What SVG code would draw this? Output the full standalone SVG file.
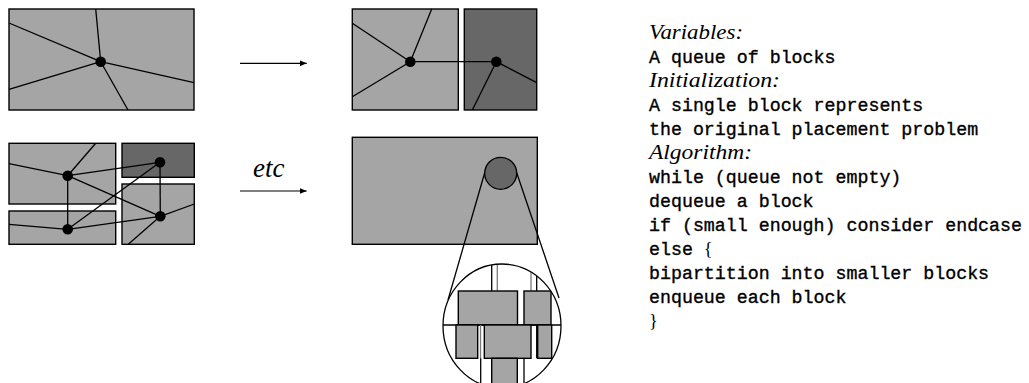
<svg xmlns="http://www.w3.org/2000/svg" width="1029" height="383" viewBox="0 0 1029 383">
<style>
.blk{fill:#a5a5a5;stroke:#000;stroke-width:1.4}
.dark{fill:#676767;stroke:#000;stroke-width:1.4}
.ln{stroke:#000;stroke-width:1.3;fill:none}
.gln{stroke:#7a7a7a;stroke-width:1.3;fill:none}
.dot{fill:#000}
.mono{font-family:"Liberation Mono","DejaVu Sans Mono",monospace;font-size:18.3px;fill:#000;stroke:#000;stroke-width:0.35}
.ital{font-family:"Liberation Serif","DejaVu Serif",serif;font-style:italic;font-size:20px;fill:#000}
</style>
<defs>
<marker id="ah" viewBox="0 0 10 10" refX="10" refY="5" markerWidth="7" markerHeight="6" markerUnits="userSpaceOnUse" orient="auto" preserveAspectRatio="none">
<path d="M0,0 L10,5 L0,10 z" fill="#000"/>
</marker>
<clipPath id="zc"><ellipse cx="502" cy="326" rx="59" ry="62"/></clipPath>
</defs>
<rect width="1029" height="383" fill="#fff"/>

<g id="block1">
<rect class="blk" x="9" y="9" width="185" height="101"/>
</g>

<g id="block2a"><rect class="blk" x="352.3" y="9" width="106" height="101"/></g>
<g id="block2b"><rect class="dark" x="464.3" y="9" width="72.4" height="101"/></g>

<g id="block3a"><rect class="blk" x="9" y="143.3" width="106.7" height="60.7"/></g>
<g id="block3b"><rect class="dark" x="122" y="143.3" width="72.3" height="34"/></g>
<g id="block3c"><rect class="blk" x="9" y="211" width="106.7" height="33.3"/></g>
<g id="block3d"><rect class="blk" x="122" y="184" width="72.3" height="60.3"/></g>

<g id="block4"><rect class="blk" x="352.3" y="137.3" width="185" height="107"/></g>

<g id="connectors">
<line class="ln" x1="100.7" y1="61.7" x2="95.7" y2="9"/>
<line class="ln" x1="100.7" y1="61.7" x2="9" y2="23"/>
<line class="ln" x1="100.7" y1="61.7" x2="9" y2="89.3"/>
<line class="ln" x1="100.7" y1="61.7" x2="194" y2="82.7"/>
<line class="ln" x1="100.7" y1="61.7" x2="128" y2="110"/>
<line class="ln" x1="410.3" y1="61.7" x2="431.7" y2="9"/>
<line class="ln" x1="410.3" y1="61.7" x2="352.3" y2="23.3"/>
<line class="ln" x1="410.3" y1="61.7" x2="352.3" y2="96.7"/>
<line class="ln" x1="410.3" y1="61.7" x2="496.3" y2="61.7"/>
<line class="ln" x1="496.3" y1="61.7" x2="536.7" y2="82.7"/>
<line class="ln" x1="496.3" y1="61.7" x2="472.3" y2="110"/>
<line class="ln" x1="67.7" y1="175.7" x2="95.7" y2="143.3"/>
<line class="ln" x1="67.7" y1="175.7" x2="9" y2="163.7"/>
<line class="ln" x1="67.7" y1="175.7" x2="160" y2="162.3"/>
<line class="ln" x1="67.7" y1="175.7" x2="67.7" y2="229.3"/>
<line class="ln" x1="67.7" y1="175.7" x2="160.3" y2="216.3"/>
<line class="ln" x1="160" y1="162.3" x2="67.7" y2="229.3"/>
<line class="ln" x1="160" y1="162.3" x2="160.3" y2="216.3"/>
<line class="ln" x1="67.7" y1="229.3" x2="9" y2="224.3"/>
<line class="ln" x1="67.7" y1="229.3" x2="160.3" y2="216.3"/>
<line class="ln" x1="160.3" y1="216.3" x2="194.3" y2="204"/>
<line class="ln" x1="160.3" y1="216.3" x2="128.3" y2="244.3"/>
<line class="ln" x1="240" y1="63.3" x2="306.7" y2="63.3" marker-end="url(#ah)"/>
<line x1="240" y1="191" x2="306.7" y2="191" stroke="#555" stroke-width="1.6" marker-end="url(#ah)"/>
<line class="ln" x1="484.7" y1="172.7" x2="448" y2="300"/>
<line class="ln" x1="516.7" y1="172.7" x2="559" y2="298"/>
</g>

<g id="n1"><circle class="dot" cx="100.7" cy="61.7" r="5.3"/></g>
<g id="n2"><circle class="dot" cx="410.3" cy="61.7" r="5.3"/></g>
<g id="n3"><circle class="dot" cx="496.3" cy="61.7" r="5.3"/></g>
<g id="n4"><circle class="dot" cx="67.7" cy="175.7" r="5.3"/></g>
<g id="n5"><circle class="dot" cx="160" cy="162.3" r="5.3"/></g>
<g id="n6"><circle class="dot" cx="67.7" cy="229.3" r="5.3"/></g>
<g id="n7"><circle class="dot" cx="160.3" cy="216.3" r="5.3"/></g>

<g id="zoomsrc"><circle cx="500.7" cy="173.3" r="16" fill="#676767" stroke="#000" stroke-width="1.3"/></g>

<g id="zoomview">
<ellipse cx="502" cy="326" rx="59" ry="62" fill="#fff"/>
<g clip-path="url(#zc)">
<line class="ln" x1="491.7" y1="255" x2="491.7" y2="291"/>
<line class="gln" x1="497.3" y1="255" x2="497.3" y2="291"/>
<line class="gln" x1="531" y1="255" x2="531" y2="291"/>
<line class="ln" x1="536.7" y1="255" x2="536.7" y2="291"/>
<rect class="blk" x="458.3" y="291" width="59.2" height="34"/>
<rect class="blk" x="524" y="291" width="27" height="34"/>
<line class="ln" x1="440" y1="325" x2="565" y2="325"/>
<rect class="blk" x="456" y="325" width="21.7" height="33.3"/>
<line class="gln" x1="480.5" y1="325" x2="480.5" y2="358.3"/>
<rect class="blk" x="484.3" y="325" width="46.7" height="33.3"/>
<line class="ln" x1="536.7" y1="325" x2="536.7" y2="358.3"/>
<rect class="blk" x="537.7" y="325" width="14" height="33.3"/>
<line class="ln" x1="480.7" y1="358.3" x2="480.7" y2="395"/>
<rect class="blk" x="491.7" y="358.3" width="25.6" height="40"/>
<line class="ln" x1="524" y1="358.3" x2="524" y2="395"/>
</g>
<ellipse cx="502" cy="326" rx="59" ry="62" fill="none" stroke="#000" stroke-width="1.3"/>
</g>

<text x="253" y="177" font-family="Liberation Serif, serif" font-style="italic" font-size="27" fill="#000">etc</text>

<g id="algorithm">
<text class="ital" x="649" y="38.5" textLength="94" lengthAdjust="spacingAndGlyphs">Variables:</text>
<text class="mono" x="649" y="62.5">A queue of blocks</text>
<text class="ital" x="649" y="86.5" textLength="131" lengthAdjust="spacingAndGlyphs">Initialization:</text>
<text class="mono" x="649" y="110.5">A single block represents</text>
<text class="mono" x="649" y="134.5">the original placement problem</text>
<text class="ital" x="649" y="158.5" textLength="103" lengthAdjust="spacingAndGlyphs">Algorithm:</text>
<text class="mono" x="649" y="182.5">while (queue not empty)</text>
<text class="mono" x="649" y="206.5">dequeue a block</text>
<text class="mono" x="649" y="230.5">if (small enough) consider endcase</text>
<text class="mono" x="649" y="254.5">else <tspan font-family="Liberation Serif, serif" stroke-width="0">{</tspan></text>
<text class="mono" x="649" y="278.5">bipartition into smaller blocks</text>
<text class="mono" x="649" y="302.5">enqueue each block</text>
<text class="mono" x="649" y="326.5"><tspan font-family="Liberation Serif, serif" stroke-width="0">}</tspan></text>
</g>
</svg>
